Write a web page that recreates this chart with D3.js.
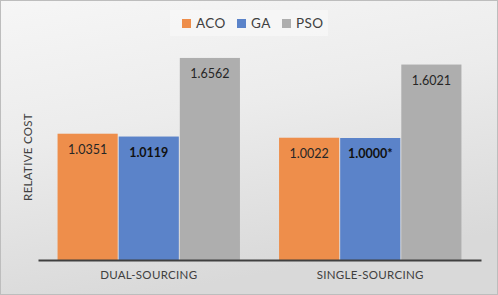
<!DOCTYPE html>
<html><head><meta charset="utf-8">
<script src="https://cdn.jsdelivr.net/npm/d3@7"></script>
<style>body{margin:0;padding:0;overflow:hidden;}svg{display:block;}</style>
</head><body>
<svg id="chart" width="498" height="295"></svg>
<script>
const categories = ["DUAL-SOURCING", "SINGLE-SOURCING"];
const seriesNames = ["ACO", "GA", "PSO"];
const aco = [1.0351, 1.0022];
const ga = [1.0119, 1.0000];
const pso = [1.6562, 1.6021];
const labels = {ACO: ["1.0351", "1.0022"], GA: ["1.0119", "1.0000*"], PSO: ["1.6562", "1.6021"]};
const colors = {ACO: "#EE8E4B", GA: "#5B83C9", PSO: "#AEAEAE"};
const values = {ACO: aco, GA: ga, PSO: pso};

const svg = d3.select("#chart");
const W = 498, H = 295;
const defs = svg.append("defs");
const grad = defs.append("linearGradient").attr("id","bg").attr("x1","0").attr("y1","0").attr("x2","0.3").attr("y2","1");
grad.append("stop").attr("offset","0").attr("stop-color","#f6f6f6");
grad.append("stop").attr("offset","0.45").attr("stop-color","#ececec");
grad.append("stop").attr("offset","1").attr("stop-color","#d9d9d9");
svg.append("rect").attr("x",0.5).attr("y",0.5).attr("width",W-1).attr("height",H-1)
  .attr("fill","url(#bg)").attr("stroke","#bdbdbd");

const font = "Lato, 'Open Sans', sans-serif";
const x0 = d3.scaleBand().domain(categories).range([38, 481]).paddingInner(0).paddingOuter(0);
const x1 = d3.scaleBand().domain(seriesNames).range([0, x0.bandwidth()]).paddingOuter(0.32).paddingInner(0.016);
const y = d3.scaleLinear().domain([0, 2]).range([260, 16]);

const g = svg.append("g");
categories.forEach((c, i) => {
  seriesNames.forEach(s => {
    const v = values[s][i];
    g.append("rect")
      .attr("x", x0(c) + x1(s))
      .attr("y", y(v))
      .attr("width", x1.bandwidth())
      .attr("height", y(0) - y(v))
      .attr("fill", colors[s]);
    g.append("text")
      .attr("x", x0(c) + x1(s) + x1.bandwidth()/2)
      .attr("y", y(v) + 20)
      .attr("text-anchor","middle")
      .attr("font-family", font)
      .attr("font-size", 12.5)
      .attr("font-weight", s === "GA" ? "bold" : "normal")
      .attr("fill", s === "GA" ? "#111" : "#262626")
      .text(labels[s][i]);
  });
});

const xAxis = d3.axisBottom(x0).tickSize(0).tickPadding(11);
const ax = svg.append("g").attr("transform", `translate(0,${y(0)})`).call(xAxis);
ax.select(".domain").attr("stroke","#404040").attr("stroke-width",2);
ax.selectAll("text").attr("font-family", font).attr("font-size", 11.5)
  .attr("fill","#404040").attr("letter-spacing","0.3px");

svg.append("text")
  .attr("transform","translate(32,157) rotate(-90)")
  .attr("text-anchor","middle")
  .attr("font-family", font).attr("font-size", 11.5).attr("fill","#404040")
  .attr("letter-spacing","0.3px")
  .text("RELATIVE COST");

// legend
const lg = svg.append("g");
lg.append("rect").attr("x",170).attr("y",10).attr("width",158).attr("height",26).attr("fill","#f8f8f8").attr("opacity",0.7);
const legX = [182, 237, 282];
seriesNames.forEach((s, i) => {
  lg.append("rect").attr("x", legX[i]).attr("y", 19).attr("width", 9).attr("height", 9).attr("fill", colors[s]);
  lg.append("text").attr("x", legX[i] + 14).attr("y", 28)
    .attr("font-family", font).attr("font-size", 13.5).attr("fill","#404040")
    .attr("letter-spacing","0.4px")
    .text(s);
});
</script>
</body></html>
